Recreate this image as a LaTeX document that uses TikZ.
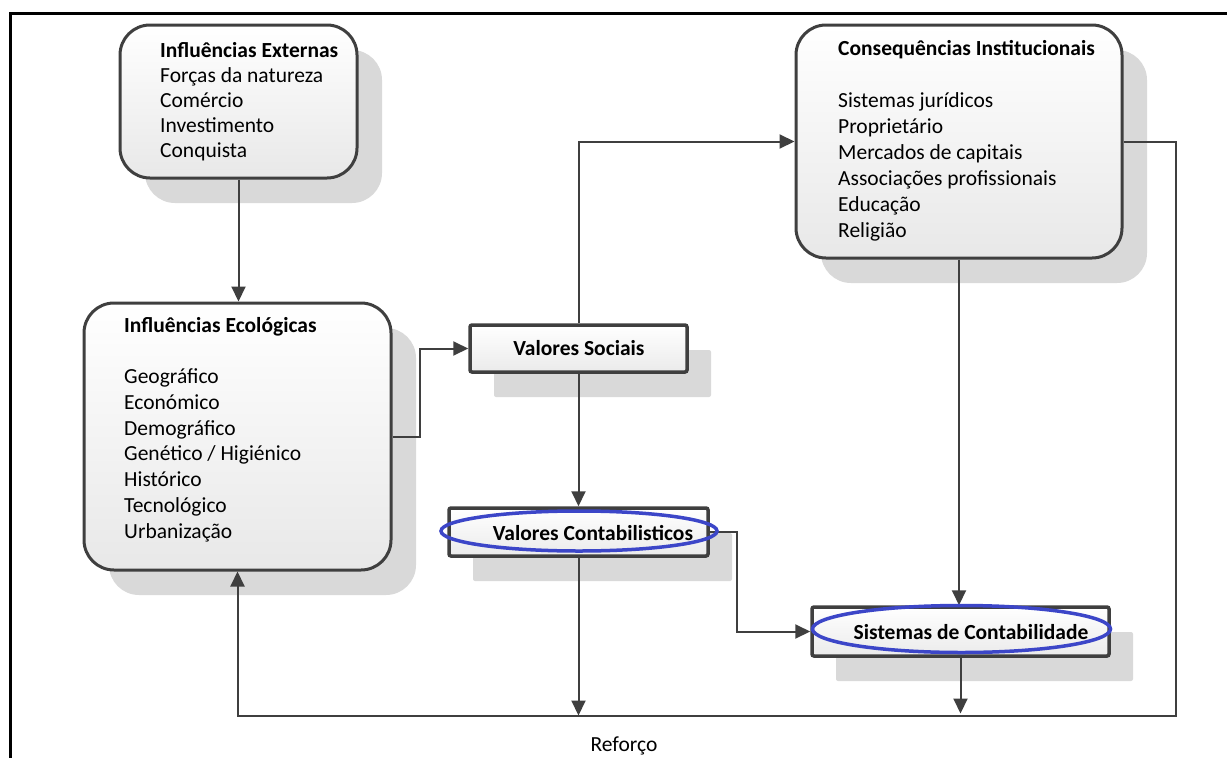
\documentclass[tikz,border=0pt]{standalone}
\usepackage{fontspec}
\setmainfont{Carlito}
\usetikzlibrary{arrows.meta,shadows,shapes.geometric,calc}
\definecolor{edge}{HTML}{3F3F3F}
\definecolor{shade}{HTML}{D9D9D9}
\definecolor{ovalblue}{HTML}{3C46C8}
\tikzset{
  rbox/.style={draw=edge, line width=3pt, rounded corners=30pt, top color=white, bottom color=black!9,
    drop shadow={shadow xshift=25pt, shadow yshift=-25pt, fill=shade, opacity=1}, inner sep=0pt},
  sbox/.style={draw=edge, line width=3.5pt, rounded corners=2pt, top color=white, bottom color=black!8,
    drop shadow={shadow xshift=24pt, shadow yshift=-25pt, fill=shade, opacity=1}, inner sep=0pt},
  txt/.style={align=left, inner sep=0pt, anchor=base west},
  lbl/.style={font=\fontsize{21.5}{24}\selectfont\bfseries, inner sep=0pt},
  conn/.style={draw=edge, line width=2pt, -{Triangle[length=15pt,width=14pt]}},
  oval/.style={draw=ovalblue, line width=3.5pt, ellipse, inner sep=0pt}
}
\begin{document}
\begin{tikzpicture}[x=1pt,y=-1pt]
\useasboundingbox (0,0) rectangle (1227,758);
\fill[white] (0,0) rectangle (1227,758);
% frame
\draw[black, line width=3pt] (10,758) -- (10,13.5) -- (1227,13.5);

% boxes
\node[rbox, minimum width=237pt, minimum height=153pt] (ext) at (238.5,101.5) {};
\node[rbox, minimum width=307pt, minimum height=267pt] (eco) at (237.5,436.5) {};
\node[rbox, minimum width=326pt, minimum height=233pt] (cons) at (959,141.5) {};
\node[sbox, minimum width=217pt, minimum height=47pt] (vs) at (578.5,348.5) {};
\node[sbox, minimum width=259pt, minimum height=48pt] (vc) at (578.5,532) {};
\node[sbox, minimum width=297pt, minimum height=49pt] (sc) at (960.5,631.5) {};

% texts (anchor = baseline of the last line)
\node[txt, font=\fontsize{21.5}{25}\selectfont] (extT) at (160,157)
  {\textbf{Influências Externas}\\Forças da natureza\\Comércio\\Investimento\\Conquista};
\node[txt, font=\fontsize{21.5}{25.7}\selectfont] (ecoT) at (124,538)
  {\textbf{Influências Ecológicas}\\[25.3pt]Geográfico\\Económico\\Demográfico\\Genético / Higiénico\\Histórico\\Tecnológico\\Urbanização};
\node[txt, font=\fontsize{21.5}{26}\selectfont] (consT) at (838,237)
  {\textbf{Consequências Institucionais}\\[26pt]Sistemas jurídicos\\Proprietário\\Mercados de capitais\\Associações profissionais\\Educação\\Religião};

% helper coordinates
\coordinate (b1) at (420,0);
\coordinate (b2) at (737,0);
\coordinate (bl) at (0,715.5);
\coordinate (br) at (1176,715.5);

% connectors
\draw[conn] (ext.south) -- (ext.south |- eco.north);
\draw[conn] (eco.east) -| (b1 |- vs.west) -- (vs.west);
\draw[conn] (vs.north) |- (cons.west);
\draw[conn] (vs.south) -- (vc.north);
\draw[conn] (vc.east) -| (b2 |- sc.west) -- (sc.west);
\draw[conn] (vc.south) -- (vc.south |- bl);
\draw[conn] (cons.south) -- (cons.south |- sc.north);
\draw[conn] (sc.south) -- ($(sc.south |- bl)+(0,-2)$);
\draw[conn] (cons.east) -| (br) -| (eco.south);

% ovals
\node[oval, minimum width=276pt, minimum height=40pt] (vcO) at (579,531) {};
\node[oval, minimum width=298pt, minimum height=47pt] (scO) at (961.5,629) {};

% labels
\node[lbl] (vsL) at (579,348) {Valores Sociais};
\node[lbl] (vcL) at (593,533) {Valores Contabilisticos};
\node[lbl] (scL) at (971,632) {Sistemas de Contabilidade};
\node[font=\fontsize{21.5}{24}\selectfont, inner sep=0pt, anchor=base] (ref) at (624,751) {Reforço};
\end{tikzpicture}
\end{document}
